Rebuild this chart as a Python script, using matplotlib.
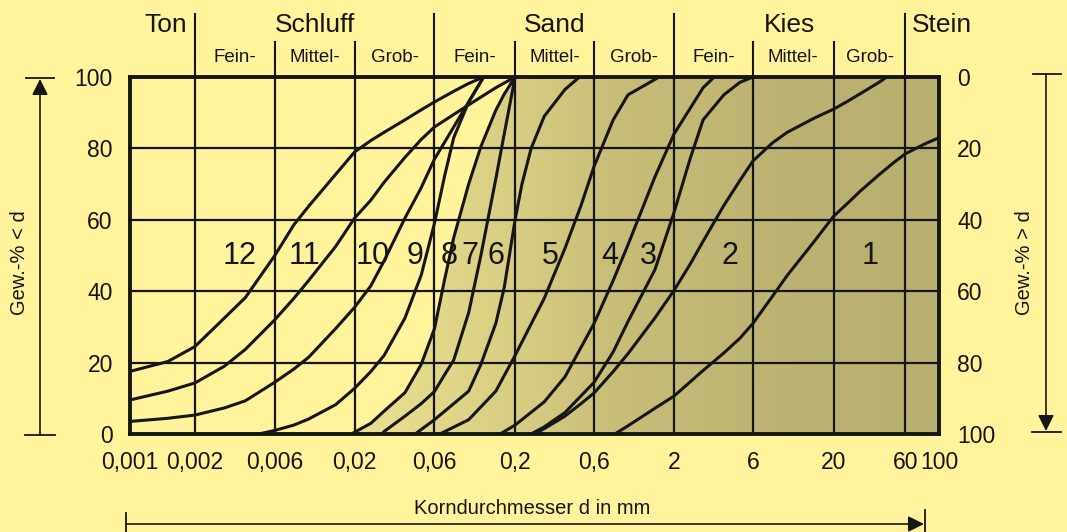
import numpy as np
import matplotlib.pyplot as plt
from matplotlib import transforms
from matplotlib.lines import Line2D

plt.rcParams['font.family'] = ['Liberation Sans', 'DejaVu Sans']

#### Achse: Klassengrenzen der Korngroesse (mm) ####
tick_d = [0.001, 0.002, 0.006, 0.02, 0.06, 0.2, 0.6, 2, 6, 20, 60, 100]
tick_labels = ['0,001', '0,002', '0,006', '0,02', '0,06', '0,2', '0,6',
               '2', '6', '20', '60', '100']
pct_ticks = [0, 20, 40, 60, 80, 100]

#### Sieblinien 1..12: Korndurchmesser d (mm) und Gew.-% < d ####
k12_d = [0.001, 0.0015, 0.002, 0.003, 0.004, 0.006, 0.008, 0.01, 0.015, 0.02, 0.025, 0.03, 0.04, 0.05, 0.06, 0.08, 0.1, 0.125]
k12_p = [17.5, 20.3, 24.5, 32.5, 38.2, 50, 58.6, 63.8, 72.7, 79, 82.2, 84.5, 88, 90.8, 93, 96, 98.2, 100]

k11_d = [0.001, 0.0015, 0.002, 0.003, 0.004, 0.006, 0.008, 0.01, 0.015, 0.02, 0.025, 0.03, 0.04, 0.05, 0.06, 0.08, 0.1, 0.15, 0.2]
k11_p = [9.5, 12, 14.3, 19, 23.7, 32, 38, 43, 52.5, 60.5, 65.5, 70.5, 77.5, 82.5, 86, 89.5, 92.2, 97, 100]

k10_d = [0.001, 0.0015, 0.002, 0.003, 0.004, 0.006, 0.008, 0.01, 0.015, 0.02, 0.025, 0.03, 0.04, 0.05, 0.06, 0.08, 0.1, 0.125]
k10_p = [3.5, 4.4, 5.3, 7.3, 9.3, 14.5, 18.2, 21.5, 29.5, 35.5, 41.5, 48.5, 60.5, 69, 77, 86, 93, 100]

k9_d = [0.0048, 0.006, 0.008, 0.01, 0.015, 0.02, 0.025, 0.03, 0.04, 0.05, 0.06, 0.07, 0.08, 0.1, 0.125]
k9_p = [0, 1, 2.5, 4.2, 8.2, 12.8, 17.5, 22, 32.5, 44.5, 59, 72.5, 83, 93, 100]

k8_d = [0.019, 0.02, 0.025, 0.03, 0.04, 0.05, 0.06, 0.07, 0.08, 0.1, 0.12, 0.15, 0.17, 0.2]
k8_p = [0, 0.5, 3, 6.4, 11.6, 19.5, 29.5, 43.5, 55, 70, 80.5, 90.7, 95.2, 100]

k7_d = [0.029, 0.03, 0.04, 0.05, 0.06, 0.07, 0.08, 0.1, 0.12, 0.15, 0.17, 0.2]
k7_p = [0, 0.7, 5, 8.5, 11.9, 16.7, 20.7, 34, 50, 71.5, 84, 100]

k6_d = [0.046, 0.06, 0.08, 0.1, 0.12, 0.15, 0.17, 0.2, 0.22, 0.25, 0.3, 0.4, 0.49]
k6_p = [0, 4, 8.5, 12, 19.5, 31, 41, 60, 70, 80, 89, 96.5, 100]

k5_d = [0.065, 0.1, 0.15, 0.2, 0.3, 0.4, 0.5, 0.6, 0.8, 1, 1.6]
k5_p = [0, 4, 12, 22, 38, 52, 64, 75, 88, 95, 100]

k4_d = [0.16, 0.2, 0.3, 0.4, 0.6, 0.8, 1, 1.5, 2, 3, 3.5]
k4_p = [0, 2.5, 9, 16, 31, 43, 53, 72, 84, 97, 100]

k3_d = [0.25, 0.3, 0.4, 0.6, 0.8, 1, 1.5, 2, 2.5, 3, 4, 5, 6]
k3_p = [0, 2, 6, 14.5, 23, 31.5, 46, 62, 77, 88, 95, 98.5, 100]

k2_d = [0.26, 0.3, 0.4, 0.5, 0.6, 0.8, 1, 1.5, 2, 2.5, 3, 4, 5, 6, 8, 10, 15, 20, 25, 30, 40, 45]
k2_p = [0, 1.5, 5, 8.5, 11.5, 17.5, 22.5, 32.5, 40.2, 47.5, 54, 64, 71, 76.5, 81.5, 84.5, 88.5, 91, 93.3, 95.3, 98.5, 100]

k1_d = [0.82, 1, 1.5, 2, 3, 4, 5, 6, 8, 10, 15, 20, 25, 30, 40, 50, 60, 80, 100]
k1_p = [0, 2.3, 7.2, 10.6, 17.8, 22.7, 26.8, 31, 38.5, 44.4, 54, 61, 64.8, 68, 72.6, 76, 78.5, 81.2, 83]

curves = [(k1_d, k1_p), (k2_d, k2_p), (k3_d, k3_p), (k4_d, k4_p), (k5_d, k5_p),
          (k6_d, k6_p), (k7_d, k7_p), (k8_d, k8_p), (k9_d, k9_p), (k10_d, k10_p),
          (k11_d, k11_p), (k12_d, k12_p)]

#### Skala: Klassengrenzen gleichabstaendig, dazwischen logarithmisch ####
log_ticks = np.log10(tick_d)
tick_pos = [0, 0.82, 1.82, 2.82, 3.82, 4.83, 5.82, 6.82, 7.81, 8.82, 9.72, 10.14]


def fwd(d):
    d = np.clip(np.asarray(d, dtype=float), 1e-6, None)
    return np.interp(np.log10(d), log_ticks, tick_pos)


def inv(p):
    return 10 ** np.interp(np.asarray(p, dtype=float), tick_pos, log_ticks)


bg = '#FFF39B'
ink = '#161616'
W, H = 1067, 532

fig = plt.figure(figsize=(W / 100, H / 100), dpi=100, facecolor=bg)
ax = fig.add_axes([129.5 / W, 1 - 434 / H, 809.5 / W, 357 / H])
ax.set_facecolor(bg)
ax.set_xscale('function', functions=(fwd, inv))

# Punktraster rechts von Sieblinie 8, nach rechts dichter
band = ax.fill_betweenx(k8_p, k8_d, 100, facecolor='none', edgecolor='none')
xs = np.linspace(0, 1, 500)
t = np.interp(xs, [0.27, 0.47, 0.6, 0.8, 1.0], [0.08, 0.18, 0.26, 0.31, 0.33])
c_bg = np.array([255, 243, 155]) / 255
c_dk = np.array([40, 38, 25]) / 255
img = (c_bg[None, :] * (1 - t[:, None]) + c_dk[None, :] * t[:, None])[None, :, :]
im = ax.imshow(img, extent=(0, 1, 0, 1), transform=ax.transAxes, aspect='auto',
               interpolation='bilinear', zorder=1)
im.set_clip_path(band.get_paths()[0], transform=ax.transData)

ax.set_xlim(0.001, 100)
ax.set_ylim(0, 100)
ax.set_xticks(tick_d)
ax.set_xticklabels(tick_labels)
ax.set_yticks(pct_ticks)
ax.grid(True, color=ink, lw=1.6, zorder=2)
ax.set_axisbelow(False)
ax.tick_params(axis='both', length=0, labelsize=16.5, colors=ink)
ax.tick_params(axis='x', pad=12)
ax.tick_params(axis='y', pad=12)
for s in ax.spines.values():
    s.set_linewidth(2.8)
    s.set_color(ink)

sec = ax.secondary_yaxis('right', functions=(lambda y: 100 - y, lambda y: 100 - y))
sec.set_yticks(pct_ticks)
sec.tick_params(length=0, labelsize=16.5, colors=ink, pad=13)
sec.spines['right'].set_visible(False)

for d, p in curves:
    ax.plot(d, p, color=ink, lw=2.2, zorder=4, solid_capstyle='round', solid_joinstyle='round')

# Nummern der Sieblinien
num_x = [0.9148, 0.7418, 0.6405, 0.5936, 0.5195, 0.4527, 0.4206, 0.3947, 0.3527, 0.3008, 0.2156, 0.1365]
for i, xf in enumerate(num_x):
    ax.text(xf, 0.50, str(i + 1), transform=ax.transAxes, ha='center', va='center',
            fontsize=22, color=ink, zorder=5)

# Kopfzeile: Bodenarten
blend = transforms.blended_transform_factory(ax.transData, fig.transFigure)
main_b = [0.002, 0.06, 2, 60]
sub_b = [0.006, 0.02, 0.2, 0.6, 6, 20]
for b in main_b:
    fig.add_artist(Line2D([b, b], [1 - 14 / H, 1 - 77 / H], transform=blend, color=ink, lw=1.5))
for b in sub_b:
    fig.add_artist(Line2D([b, b], [1 - 42 / H, 1 - 77 / H], transform=blend, color=ink, lw=1.5))


def mid(a, b):
    return float(inv((fwd(a) + fwd(b)) / 2))


y_main = 1 - 25 / H
y_sub = 1 - 57 / H
fig.text(187 / W, y_main, 'Ton', ha='right', va='center', fontsize=19, color=ink)
fig.text(mid(0.002, 0.06), y_main, 'Schluff', transform=blend, ha='center', va='center', fontsize=19, color=ink)
fig.text(mid(0.06, 2), y_main, 'Sand', transform=blend, ha='center', va='center', fontsize=19, color=ink)
fig.text(mid(2, 60), y_main, 'Kies', transform=blend, ha='center', va='center', fontsize=19, color=ink)
fig.text(912 / W, y_main, 'Stein', ha='left', va='center', fontsize=19, color=ink)

sub_names = ['Fein-', 'Mittel-', 'Grob-']
edges = [0.002, 0.006, 0.02, 0.06, 0.2, 0.6, 2, 6, 20, 60]
for i in range(9):
    fig.text(mid(edges[i], edges[i + 1]), y_sub, sub_names[i % 3], transform=blend,
             ha='center', va='center', fontsize=13.5, color=ink)

# Achsbeschriftungen mit Pfeilen
fig.text(20 / W, 1 - 263 / H, 'Gew.-% < d', rotation=90, ha='center', va='center', fontsize=14.5, color=ink)
fig.text(1025 / W, 1 - 263 / H, 'Gew.-% > d', rotation=90, ha='center', va='center', fontsize=14.5, color=ink)
fig.text(532 / W, 1 - 508 / H, 'Korndurchmesser d in mm', ha='center', va='center', fontsize=14.5, color=ink)

arrow = dict(arrowstyle='-|>', lw=1.2, color=ink, mutation_scale=24, shrinkA=0, shrinkB=0)
fig.add_artist(Line2D([26 / W, 54 / W], [1 - 78 / H] * 2, color=ink, lw=1.3))
fig.add_artist(Line2D([25 / W, 55 / W], [1 - 435 / H] * 2, color=ink, lw=1.3))
ax.annotate('', xy=(40 / W, 1 - 79 / H), xytext=(40 / W, 1 - 435 / H),
            xycoords='figure fraction', textcoords='figure fraction', arrowprops=arrow)

fig.add_artist(Line2D([1033 / W, 1061 / W], [1 - 74 / H] * 2, color=ink, lw=1.3))
fig.add_artist(Line2D([1032 / W, 1061 / W], [1 - 432 / H] * 2, color=ink, lw=1.3))
ax.annotate('', xy=(1046 / W, 1 - 431 / H), xytext=(1046 / W, 1 - 74 / H),
            xycoords='figure fraction', textcoords='figure fraction', arrowprops=arrow)

fig.add_artist(Line2D([126 / W] * 2, [1 - 513 / H, 1 - 532 / H], color=ink, lw=1.3))
fig.add_artist(Line2D([925 / W] * 2, [1 - 510 / H, 1 - 532 / H], color=ink, lw=1.3))
ax.annotate('', xy=(924 / W, 1 - 524 / H), xytext=(126 / W, 1 - 524 / H),
            xycoords='figure fraction', textcoords='figure fraction', arrowprops=arrow)

plt.savefig('out.png', dpi=100, facecolor=bg)
